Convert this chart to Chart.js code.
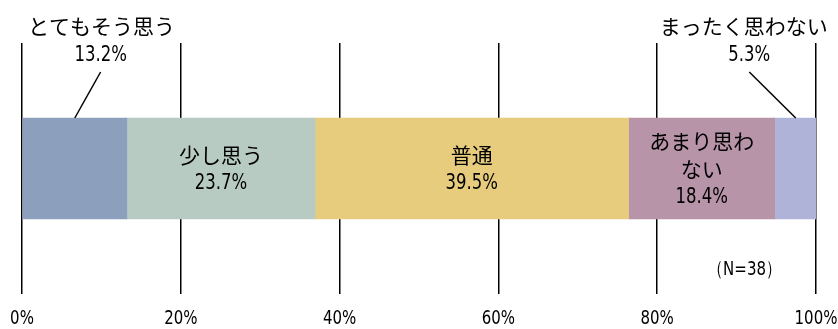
<!DOCTYPE html>
<html>
<head>
<meta charset="utf-8">
<script src="https://cdn.jsdelivr.net/npm/chart.js@4"></script>
<style>
  html, body { margin: 0; padding: 0; background: #ffffff; }
  #wrap { width: 838px; height: 329px; }
</style>
</head>
<body>
<div id="wrap"><canvas id="surveyChart" width="838" height="329"></canvas></div>
<script>
const categories = ['とてもそう思う', '少し思う', '普通', 'あまり思わない', 'まったく思わない'];
const percentages = [13.2, 23.7, 39.5, 18.4, 5.3];
const colors = ['#8c9fbd', '#b7cbc3', '#e7cc7e', '#b894a8', '#b0b3d8'];
const tickValues = [0, 20, 40, 60, 80, 100];
const sampleNote = '（N=38）';

const jpFont = '"Noto Sans CJK JP", sans-serif';
const numFont = '"DejaVu Sans", sans-serif';

// labels drawn inside the bar (the narrow segment wraps)
const insideLines = {
    1: ['少し思う'],
    2: ['普通'],
    3: ['あまり思わ', 'ない']
};
// small segments get their label above the plot with a leader line
const callouts = {
    0: { at: 10.0, lineFrom: 9.9 },
    4: { at: 90.9, lineFrom: 91.6 }
};

// numbers in the original are tall and condensed
function drawNarrow(ctx, text, x, y, size) {
    ctx.save();
    ctx.translate(x, y);
    ctx.scale(0.75, 1);
    ctx.font = size + 'px ' + numFont;
    ctx.fillText(text, 0, 0);
    ctx.restore();
}

const labelPlugin = {
    id: 'segmentLabels',
    afterDatasetsDraw(chart) {
        const ctx = chart.ctx;
        const xs = chart.scales.x;
        const area = chart.chartArea;
        ctx.save();
        ctx.fillStyle = '#000000';
        ctx.textAlign = 'center';
        ctx.textBaseline = 'middle';

        chart.data.datasets.forEach((ds, i) => {
            const bar = chart.getDatasetMeta(i).data[0];
            const cx = (bar.x + bar.base) / 2;
            const pct = percentages[i].toFixed(1) + '%';

            if (insideLines[i]) {
                const lines = insideLines[i];
                const lh = 28;
                const total = lines.length + 1;
                let y = bar.y + 1 - (total - 1) * lh / 2;
                ctx.font = '21px ' + jpFont;
                lines.forEach(t => { ctx.fillText(t, cx, y); y += lh; });
                drawNarrow(ctx, pct, cx, y, 22);
            } else {
                const c = callouts[i];
                ctx.font = '21px ' + jpFont;
                ctx.fillText(categories[i], xs.getPixelForValue(c.at), area.top - 17);
                drawNarrow(ctx, pct, xs.getPixelForValue(c.lineFrom), area.top + 12, 22);
                const barTop = bar.y - bar.height / 2;
                ctx.beginPath();
                ctx.strokeStyle = '#000000';
                ctx.lineWidth = 1.5;
                ctx.moveTo(xs.getPixelForValue(c.lineFrom), area.top + 29);
                ctx.lineTo(cx, barTop);
                ctx.stroke();
            }
        });

        drawNarrow(ctx, sampleNote, xs.getPixelForValue(91.0), area.bottom - 24, 20);

        // x tick labels
        tickValues.forEach(v => {
            drawNarrow(ctx, v + '%', xs.getPixelForValue(v), area.bottom + 25, 20);
        });
        ctx.restore();
    }
};

new Chart(document.getElementById('surveyChart').getContext('2d'), {
    type: 'bar',
    data: {
        labels: [''],
        datasets: categories.map((name, i) => ({
            label: name,
            data: [percentages[i]],
            backgroundColor: colors[i],
            borderWidth: 0,
            barThickness: 101
        }))
    },
    options: {
        indexAxis: 'y',
        responsive: false,
        animation: false,
        layout: { padding: { left: 22, right: 22, top: 43, bottom: 0 } },
        scales: {
            x: {
                stacked: true,
                min: 0,
                max: 100,
                afterBuildTicks: axis => { axis.ticks = tickValues.map(v => ({ value: v })); },
                afterFit: axis => {
                    axis.height = 35;
                    axis.paddingLeft = 0;
                    axis.paddingRight = 0;
                },
                grid: { color: '#000000', lineWidth: 1.5, drawTicks: false },
                border: { display: false },
                ticks: { display: false }
            },
            y: {
                stacked: true,
                display: false
            }
        },
        plugins: {
            legend: { display: false },
            tooltip: { enabled: false }
        }
    },
    plugins: [labelPlugin]
});
</script>
</body>
</html>
